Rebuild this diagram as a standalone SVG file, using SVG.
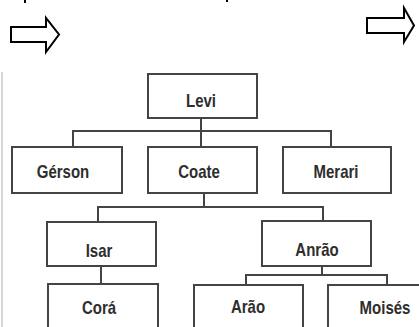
<svg xmlns="http://www.w3.org/2000/svg" width="419" height="327" viewBox="0 0 419 327">
<style>
.box{fill:#fff;stroke:#444;stroke-width:2}
.lbl{font-family:"Liberation Sans",Arial,sans-serif;font-weight:bold;font-size:15px;fill:#2e2e2e;text-anchor:middle}
.con{fill:none;stroke:#444;stroke-width:2}
.arr{fill:#fff;stroke:#000;stroke-width:2;stroke-linejoin:miter}
</style>
<rect width="419" height="327" fill="#fff"/>
<rect x="24" y="0" width="2" height="3" fill="#000"/>
<rect x="226" y="0" width="2" height="2" fill="#000"/>
<line x1="2" y1="72" x2="2" y2="327" stroke="#c8c8c8" stroke-width="1.5"/>
<polygon class="arr" points="11,27 46,27 46,18 59,34.5 46,52 46,42 11,42"/>
<polygon class="arr" points="367,18 404,18 404,8 414,25.5 404,42 404,33 367,33"/>
<g id="connectors">
<path class="con" d="M201,118 V147 M73,147 V131 H331 V147"/>
<path class="con" d="M204,193 V207 M98,222 V207 H323 V221"/>
<path class="con" d="M101,266 V284"/>
<path class="con" d="M322,266 V275 M246,285 V275 H387 V285"/>
</g>
<g id="levi"><rect class="box" x="148" y="74" width="109" height="44"/><text class="lbl" transform="translate(201,107) scale(1,1.25)">Levi</text></g>
<g id="gerson"><rect class="box" x="12" y="147" width="110" height="46"/><text class="lbl" transform="translate(63,178) scale(1,1.25)">Gérson</text></g>
<g id="coate"><rect class="box" x="148" y="147" width="109" height="46"/><text class="lbl" transform="translate(199,178) scale(1,1.25)">Coate</text></g>
<g id="merari"><rect class="box" x="283" y="147" width="108" height="46"/><text class="lbl" transform="translate(336,178) scale(1,1.25)">Merari</text></g>
<g id="isar"><rect class="box" x="47" y="222" width="109" height="44"/><text class="lbl" transform="translate(99,257) scale(1,1.25)">Isar</text></g>
<g id="anrao"><rect class="box" x="262" y="221" width="109" height="45"/><text class="lbl" transform="translate(317,256) scale(1,1.25)">Anrão</text></g>
<g id="cora"><rect class="box" x="48" y="284" width="110" height="50"/><text class="lbl" transform="translate(99,314) scale(1,1.25)">Corá</text></g>
<g id="arao"><rect class="box" x="194" y="285" width="109" height="50"/><text class="lbl" transform="translate(248,313) scale(1,1.25)">Arão</text></g>
<g id="moises"><rect class="box" x="328" y="285" width="100" height="50"/><text class="lbl" transform="translate(385,314) scale(1,1.25)">Moisés</text></g>
</svg>
